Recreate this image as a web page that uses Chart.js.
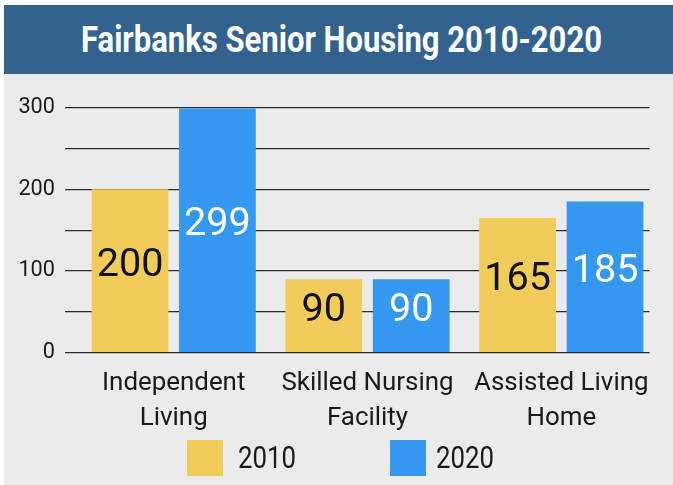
<!DOCTYPE html>
<html>
<head>
<meta charset="utf-8">
<script src="https://cdn.jsdelivr.net/npm/chart.js@4.4.1/dist/chart.umd.min.js"></script>
<style>
  body { margin: 0; background: #fff; width: 673px; height: 485px; overflow: hidden; position: relative;
         font-family: Roboto, 'DejaVu Sans Condensed', sans-serif; }
  #panel { position: absolute; left: 4px; top: 5px; width: 669px; height: 480px; background: #ebebeb; }
  #banner { position: absolute; left: 4px; top: 5px; width: 669px; height: 69px; background: #32628d; }
  #title { position: absolute; top: 0; left: 0; white-space: nowrap; color: #fff; font-weight: bold;
           font-size: 37px; line-height: 69px; transform-origin: 0 50%; }
  #wrap { position: absolute; left: 4px; top: 74px; width: 669px; height: 411px; }
  .swatch { position: absolute; top: 440px; width: 36px; height: 36px; }
  .ltext { position: absolute; top: 440px; height: 36px; line-height: 36px; white-space: nowrap;
           font-size: 31px; color: #1a1a1a; transform-origin: 0 50%; }
</style>
</head>
<body>
<div id="panel"></div>
<div id="banner"><span id="title">Fairbanks Senior Housing 2010-2020</span></div>
<div id="wrap"><canvas id="chart" width="669" height="411"></canvas></div>
<script>
const categories = [["Independent", "Living"], ["Skilled Nursing", "Facility"], ["Assisted Living", "Home"]]
const years = ["2010", "2020"]
const values2010 = [200, 90, 165]
const values2020 = [299, 90, 185]
const yTickLabels = [0, 100, 200, 300]
const colors = ["#f2cc5b", "#3598ef"]
const labelColors = ["#111111", "#ffffff"]

const fontFamily = "Roboto, 'DejaVu Sans Condensed', sans-serif"

// the original uses a condensed face, so squeeze html text to its width
const squeeze = (el, targetWidth, x) => {
  const w = el.getBoundingClientRect().width
  el.style.left = x + "px"
  el.style.transform = "scaleX(" + (targetWidth / w) + ")"
}
squeeze(document.getElementById("title"), 521, 77)

// legend (html)
const legendPos = [[187, 238], [389.5, 436]]
years.forEach((y, i) => {
  const sw = document.createElement("div")
  sw.className = "swatch"
  sw.style.left = legendPos[i][0] + "px"
  sw.style.background = colors[i]
  document.body.appendChild(sw)
  const t = document.createElement("span")
  t.className = "ltext"
  t.textContent = y
  document.body.appendChild(t)
  squeeze(t, 58, legendPos[i][1])
})

// canvas text cannot be squeezed: pick a size between the one matching the height and the one matching the width
const measureCtx = document.createElement("canvas").getContext("2d")
const fitSize = (text, targetWidth, size) => {
  measureCtx.font = size + "px " + fontFamily
  const byWidth = size * targetWidth / measureCtx.measureText(text).width
  return Math.round(Math.sqrt(byWidth * size) * 10) / 10
}
const xLabelSize = fitSize("Independent", 133, 28)
const yLabelSize = fitSize("300", 33, 24)
const barLabelSize = fitSize("200", 60, 44)

const toPoints = (vals) => vals.map((v, i) => ({ x: i, y: v }))

// values written inside the bars
const barLabels = {
  id: "barLabels",
  afterDatasetsDraw(chart) {
    const ctx = chart.ctx
    ctx.save()
    ctx.font = barLabelSize + "px " + fontFamily
    ctx.textAlign = "center"
    ctx.textBaseline = "middle"
    chart.data.datasets.forEach((ds, d) => {
      ctx.fillStyle = labelColors[d]
      chart.getDatasetMeta(d).data.forEach((bar, i) => {
        ctx.fillText(String(ds.data[i].y), bar.x, (bar.y + bar.base) / 2 - 5)
      })
    })
    ctx.restore()
  }
}

new Chart(document.getElementById("chart"), {
  type: "bar",
  data: {
    datasets: [
      { label: years[0], data: toPoints(values2010), backgroundColor: colors[0] },
      { label: years[1], data: toPoints(values2020), backgroundColor: colors[1] }
    ]
  },
  options: {
    responsive: false,
    animation: false,
    devicePixelRatio: 1,
    categoryPercentage: 0.902,
    barPercentage: 0.878,
    layout: { padding: { top: 33.7, left: 0, right: 23.5, bottom: 0 } },
    plugins: {
      legend: { display: false },
      tooltip: { enabled: false }
    },
    scales: {
      x: {
        type: "linear",
        offset: false,
        min: -0.561,
        max: 2.455,
        grid: { display: false, offset: false },
        border: { display: false },
        afterBuildTicks: (axis) => { axis.ticks = categories.map((c, i) => ({ value: i })) },
        afterFit: (axis) => { axis.height = 132.3 },
        ticks: {
          autoSkip: false,
          maxRotation: 0,
          padding: 5,
          color: "#1a1a1a",
          font: { family: fontFamily, size: xLabelSize, lineHeight: 35 / xLabelSize },
          callback: (v) => categories[v]
        }
      },
      y: {
        min: 0,
        max: 300,
        grid: { color: "#2b2b2b", lineWidth: 1.3, drawTicks: false },
        border: { display: false },
        afterFit: (axis) => { axis.width = 61 },
        ticks: {
          stepSize: 50,
          padding: 10,
          color: "#1a1a1a",
          font: { family: fontFamily, size: yLabelSize },
          callback: (v) => yTickLabels.includes(v) ? String(v) : ""
        }
      }
    }
  },
  plugins: [barLabels]
})
</script>
</body>
</html>
